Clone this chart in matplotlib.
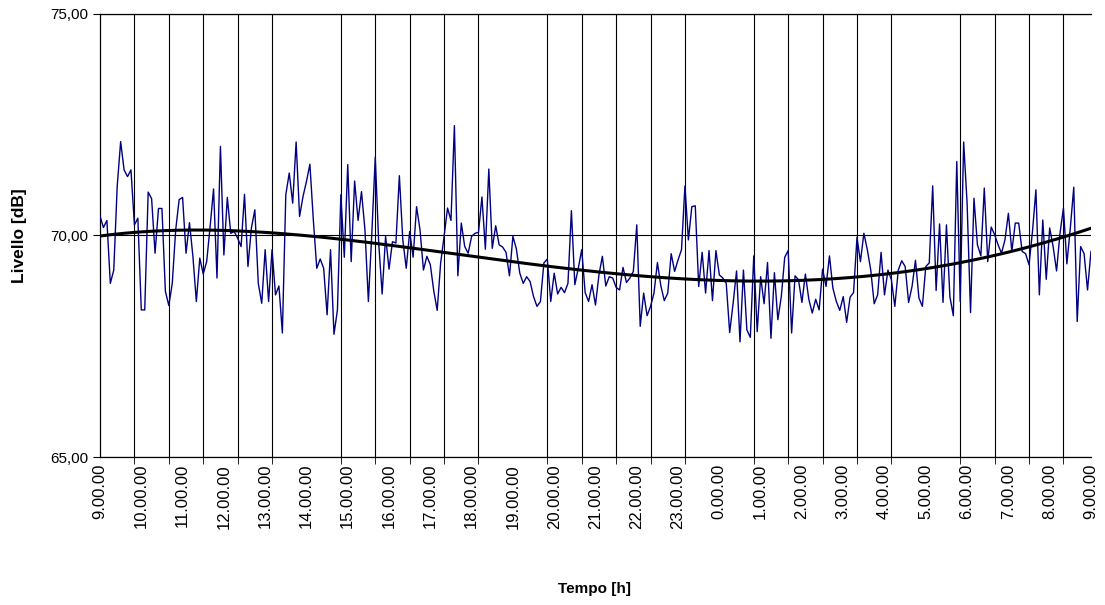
import numpy as np
import matplotlib
matplotlib.use("Agg")
import matplotlib.pyplot as plt

plt.rcParams["font.family"] = ["Liberation Sans", "DejaVu Sans"]

# livello misurato ogni 5 minuti, dalle 9.00 alle 9.00 del giorno dopo
livello = [
    70.44, 70.18, 70.34, 68.92, 69.22, 71.11, 72.12, 71.48, 71.33, 71.48, 70.24, 70.39,
    68.32, 68.32, 70.98, 70.83, 69.60, 70.61, 70.61, 68.74, 68.42, 68.92, 70.13, 70.81,
    70.86, 69.60, 70.29, 69.53, 68.51, 69.49, 69.13, 69.41, 70.20, 71.05, 69.04, 72.01,
    69.56, 70.86, 70.05, 70.09, 69.94, 69.75, 70.93, 69.30, 70.17, 70.58, 68.92, 68.47,
    69.68, 68.51, 69.68, 68.66, 68.86, 67.80, 70.92, 71.41, 70.73, 72.11, 70.43, 70.88,
    71.22, 71.61, 70.35, 69.26, 69.47, 69.26, 68.21, 69.68, 67.77, 68.32, 70.92, 69.51,
    71.60, 69.41, 71.23, 70.34, 70.99, 70.13, 68.51, 70.05, 71.77, 69.83, 68.68, 69.98,
    69.24, 69.86, 69.83, 71.35, 69.90, 69.26, 70.09, 69.51, 70.65, 70.13, 69.22, 69.53,
    69.34, 68.75, 68.31, 69.38, 69.98, 70.62, 70.34, 72.48, 69.09, 70.28, 69.75, 69.60,
    69.98, 70.05, 70.07, 70.87, 69.69, 71.50, 69.71, 70.22, 69.79, 69.74, 69.62, 69.09,
    69.98, 69.70, 69.15, 68.92, 69.07, 68.96, 68.62, 68.40, 68.51, 69.38, 69.47, 68.51,
    69.15, 68.68, 68.83, 68.71, 68.92, 70.56, 68.89, 69.26, 69.68, 68.71, 68.51, 68.89,
    68.43, 69.11, 69.53, 68.86, 69.07, 69.04, 68.83, 68.77, 69.28, 68.94, 69.04, 69.19,
    70.24, 67.95, 68.70, 68.19, 68.40, 68.70, 69.39, 68.86, 68.53, 68.70, 69.59, 69.19,
    69.45, 69.68, 71.12, 69.90, 70.65, 70.67, 68.85, 69.62, 68.70, 69.66, 68.53, 69.66,
    69.11, 69.04, 68.92, 67.81, 68.47, 69.20, 67.60, 69.22, 67.87, 67.70, 69.54, 67.83,
    69.07, 68.46, 69.39, 67.68, 69.16, 68.10, 68.62, 69.51, 69.66, 67.80, 69.09, 69.00,
    68.49, 69.13, 68.56, 68.25, 68.56, 68.32, 69.24, 68.85, 69.54, 68.81, 68.51, 68.31,
    68.62, 68.04, 68.61, 68.71, 69.96, 69.41, 70.05, 69.68, 69.22, 68.46, 68.66, 69.62,
    68.66, 69.22, 69.00, 68.40, 69.22, 69.43, 69.30, 68.49, 68.85, 69.44, 68.59, 68.40,
    69.30, 69.38, 71.12, 68.76, 70.26, 68.49, 70.24, 68.62, 68.19, 71.67, 68.51, 72.11,
    70.73, 68.26, 70.84, 69.79, 69.54, 71.07, 69.41, 70.19, 70.02, 69.79, 69.60, 69.90,
    70.50, 69.64, 70.28, 70.28, 69.64, 69.59, 69.34, 70.09, 71.03, 68.66, 70.35, 69.01,
    70.17, 69.75, 69.20, 70.05, 70.62, 69.36, 70.17, 71.09, 68.06, 69.75, 69.59, 68.77,
    69.64,
]
ore = [9, 10, 11, 12, 13, 14, 15, 16, 17, 18, 19, 20, 21, 22, 23,
       0, 1, 2, 3, 4, 5, 6, 7, 8, 9]
etichette = [f"{h}.00.00" for h in ore]

x = np.arange(len(livello))
y = np.array(livello)

# linea di tendenza polinomiale
coef = np.polyfit(x, y, 4)
tendenza = np.polyval(coef, x)

fig = plt.figure(figsize=(11.05, 6.05), dpi=100)
ax = fig.add_axes([0.0905, 0.2446, 0.8968, 0.7323])

ax.plot(x, y, color="#000080", linewidth=1.0, zorder=3)
ax.plot(x, tendenza, color="black", linewidth=2.2, zorder=4)

ax.set_xlim(0, len(livello) - 1)
ax.set_ylim(65, 75)
ax.set_yticks([65, 70, 75])
ax.set_yticklabels(["65,00", "70,00", "75,00"], fontsize=11)

# etichette ogni ora (12 campioni), griglia ogni 10 campioni
ax.set_xticks(np.arange(0, len(livello), 12))
ax.set_xticklabels(etichette, rotation=90, fontsize=12)
ax.set_xticks(np.arange(0, len(livello), 10), minor=True)
ax.tick_params(axis="x", which="major", length=0, pad=5)
ax.tick_params(axis="x", which="minor", length=5, direction="out")
ax.tick_params(axis="y", length=5, direction="out")

ax.grid(True, axis="x", which="minor", color="black", linewidth=0.8)
ax.grid(True, axis="y", which="major", color="black", linewidth=0.8)

ax.spines["right"].set_visible(False)
for lato in ["left", "bottom", "top"]:
    ax.spines[lato].set_linewidth(0.9)

ax.set_ylabel("Livello [dB]", fontsize=12.5, fontweight="bold")
ax.yaxis.set_label_coords(-0.074, 0.5)
fig.text(0.538, 0.015, "Tempo [h]", fontsize=11, fontweight="bold",
         ha="center", va="bottom")

fig.savefig("out.png", dpi=100)
